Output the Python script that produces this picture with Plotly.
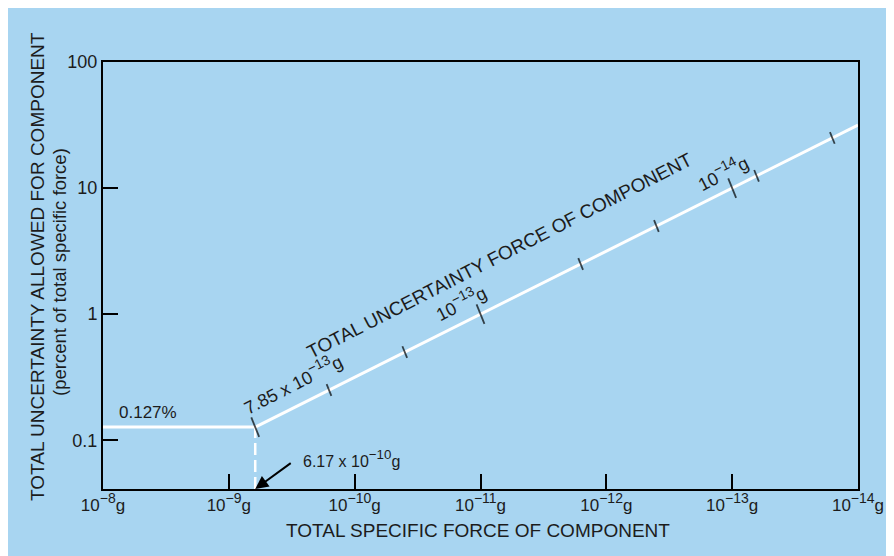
import math
import plotly.graph_objects as go

# ---- data ----
force_flat = [1e-8, 6.17e-10]          # g
pct_flat = [0.127, 0.127]              # percent
force_slope = [6.17e-10, 1e-14]
pct_slope = [0.127, 31.6]
drop_force = [6.17e-10, 6.17e-10]
drop_pct = [0.041, 0.127]

# tick marks along the uncertainty line (uncertainty force values)
line_tick_force = [6.17e-10, 1.6e-10, 4.0e-11, 1.0e-11, 1.6e-12, 4.0e-13, 1.0e-13, 6.4e-14, 1.6e-14]
line_tick_pct = [0.127, 0.25, 0.5, 1.0, 2.5, 5.0, 10.0, 12.5, 25.0]
line_tick_major = [True, False, False, True, False, False, True, False, False]

x_tick_vals = [1e-8, 1e-9, 1e-10, 1e-11, 1e-12, 1e-13, 1e-14]
x_tick_exp = ["8", "9", "10", "11", "12", "13", "14"]
y_tick_vals = [0.1, 1, 10, 100]
y_tick_text = ["0.1", "1", "10", "100"]

BG = "#a8d5f1"
INK = "#1c1c1c"
FONT = "Liberation Sans, Arial, sans-serif"


def sup(e, size=20):
    # sup renders at 70% of the surrounding span size
    return "<span style=\"font-size:%dpx\"><sup>\u2212%s</sup></span>" % (size, e)


x_tick_text = ["10" + sup(e) + "g" for e in x_tick_exp]

fig = go.Figure()
fig.add_trace(go.Scatter(x=drop_force, y=drop_pct, mode="lines",
                         line=dict(color="white", width=2.5, dash="12px,5px"),
                         hoverinfo="skip"))
fig.add_trace(go.Scatter(x=force_flat, y=pct_flat, mode="lines",
                         line=dict(color="white", width=3), hoverinfo="skip"))
fig.add_trace(go.Scatter(x=force_slope, y=pct_slope, mode="lines",
                         line=dict(color="white", width=3), hoverinfo="skip"))
fig.add_trace(go.Scatter(
    x=line_tick_force, y=line_tick_pct, mode="markers",
    marker=dict(symbol="line-ns", angle=-22,
                size=[15 if m else 9 for m in line_tick_major],
                line=dict(color="black", width=1.8)),
    hoverinfo="skip"))

W, H = 894, 556
OFF = 8  # page margin seen in the screenshot
L, T = 95, 54
pw, ph = 755, 427
R, B = W - L - pw, H - T - ph


def px(xs):
    return (xs - OFF - L) / pw


def py(ys):
    return (T + ph - (ys - OFF)) / ph


def ann(text, x, y, size=18, angle=0, xanchor="center"):
    return dict(text=text, x=px(x), y=py(y), xref="paper", yref="paper",
                showarrow=False, textangle=angle, xanchor=xanchor, yanchor="middle",
                font=dict(family=FONT, size=size, color=INK))


annotations = [
    ann("0.127%", 148, 412, size=17),
    ann("7.85 x 10" + sup("13") + "g", 292, 382, size=18, angle=-27),
    ann("TOTAL UNCERTAINTY FORCE OF COMPONENT", 500, 256, size=19, angle=-27),
    ann("10" + sup("13") + "g", 460, 301, size=18, angle=-27),
    ann("10" + sup("14") + "g", 722, 171, size=18, angle=-27),
    ann("6.17 x 10" + sup("10", 19) + "g", 301, 458, size=16, xanchor="left"),
    ann("TOTAL SPECIFIC FORCE OF COMPONENT", 478, 530, size=19),
    ann("TOTAL UNCERTAINTY ALLOWED FOR COMPONENT", 37, 267, size=19, angle=-90),
    ann("(percent of total specific force)", 59, 272, size=18.5, angle=-90),
    dict(text="", x=math.log10(6.17e-10), y=math.log10(0.041), xref="x", yref="y",
         showarrow=True, ax=37, ay=-27, axref="pixel", ayref="pixel",
         arrowhead=2, arrowsize=1.3, arrowwidth=2, arrowcolor="black"),
]

axis_common = dict(showline=True, linecolor="black", linewidth=2, mirror=True,
                   ticks="inside", ticklen=15, tickwidth=1.5, tickcolor="black",
                   showgrid=False, zeroline=False,
                   tickfont=dict(family=FONT, size=17, color=INK))

fig.update_layout(
    width=W, height=H,
    margin=dict(l=L, r=R, t=T, b=B),
    paper_bgcolor=BG, plot_bgcolor=BG,
    showlegend=False,
    annotations=annotations,
    xaxis=dict(type="log", range=[-8, -14], autorange=False,
               tickvals=x_tick_vals, ticktext=x_tick_text, **axis_common),
    yaxis=dict(type="log", range=[math.log10(0.041), 2], autorange=False,
               tickvals=y_tick_vals, ticktext=y_tick_text,
               **{**axis_common, "tickfont": dict(family=FONT, size=18, color=INK)}),
)

fig.write_html("out.html")
